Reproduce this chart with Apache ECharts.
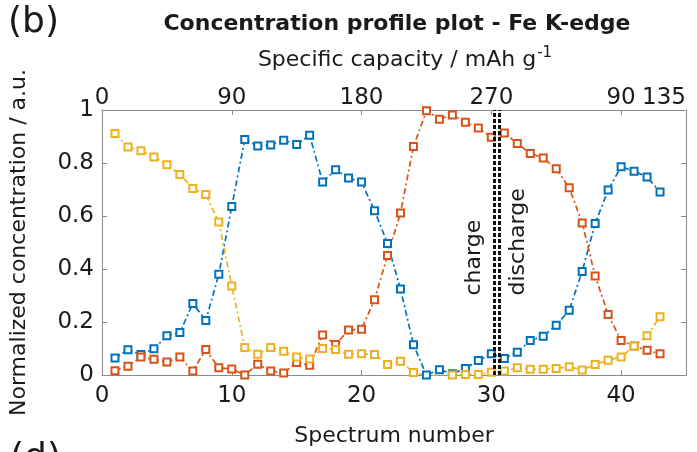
<!DOCTYPE html>
<html>
<head>
<meta charset="utf-8">
<script src="https://cdn.jsdelivr.net/npm/echarts@6/dist/echarts.min.js"></script>
<style>
html,body{margin:0;padding:0;background:#fff;}
#chart{width:697px;height:452px;}
</style>
</head>
<body>
<div id="chart"></div>
<script>
// Spectrum numbers 1..43
const spectra = [1,2,3,4,5,6,7,8,9,10,11,12,13,14,15,16,17,18,19,20,21,22,23,24,25,26,27,28,29,30,31,32,33,34,35,36,37,38,39,40,41,42,43];
const blueValues = [0.064,0.095,0.077,0.099,0.148,0.16,0.27,0.206,0.38,0.636,0.889,0.864,0.868,0.886,0.87,0.905,0.728,0.775,0.743,0.728,0.62,0.496,0.325,0.114,0.0,0.02,0.005,0.025,0.055,0.08,0.062,0.086,0.13,0.146,0.188,0.244,0.391,0.572,0.698,0.786,0.769,0.747,0.691];
const orangeValues = [0.016,0.033,0.068,0.059,0.049,0.068,0.015,0.096,0.027,0.023,0.0,0.041,0.015,0.008,0.047,0.037,0.151,0.115,0.17,0.173,0.284,0.451,0.611,0.862,0.997,0.965,0.981,0.954,0.932,0.897,0.913,0.874,0.836,0.819,0.778,0.707,0.574,0.374,0.228,0.13,0.109,0.093,0.08];
const yellowValues = [0.911,0.86,0.846,0.823,0.793,0.757,0.704,0.681,0.577,0.336,0.104,0.078,0.104,0.09,0.068,0.06,0.1,0.096,0.078,0.08,0.077,0.04,0.052,0.009,-0.002,-0.002,0.0,0.002,0.002,0.01,0.015,0.027,0.022,0.022,0.025,0.031,0.019,0.04,0.056,0.068,0.109,0.148,0.22];
// Top axis: spectrum positions and their specific capacity labels
const topTickPositions = [0,10,20,30,40,45];
const topTickLabels = ['0','90','180','270','90','135'];
// Charge / discharge separator and annotation anchors (data coords)
const separatorX = 30.4;
const textStartY = 0.3;
const textOffsetX = 1.7;

const FONT = 'DejaVu Sans';
const axisGray = '#8a8a8a';
const textColor = '#1a1a1a';

function pairs(vals){ return spectra.map((s,i)=>[s, vals[i]]); }

const lineStyleCommon = { width: 1.7, type: [6,3,2,3] };

function mkSeries(name, vals, color){
  return {
    name: name, type: 'line', data: pairs(vals),
    symbol: 'emptyRect', symbolSize: 7,
    itemStyle: { color: color, borderWidth: 1.4 },
    lineStyle: Object.assign({ color: color }, lineStyleCommon),
    z: 3, animation: false
  };
}

const chart = echarts.init(document.getElementById('chart'), null, {renderer:'canvas'});
const option = {
  animation: false,
  backgroundColor: '#ffffff',
  grid: { left: 100, right: 11, top: 110, bottom: 72 },
  xAxis: [
    {
      type: 'value', min: 0, max: 45, interval: 10, position: 'bottom',
      name: 'Spectrum number', nameLocation: 'middle', nameGap: 50,
      nameTextStyle: { fontFamily: FONT, fontSize: 22, color: textColor },
      axisLine: { show: true, onZero: false, lineStyle: { color: axisGray, width: 1 } },
      axisTick: { show: true, inside: true, length: 5, lineStyle: { color: axisGray } },
      axisLabel: { fontFamily: FONT, fontSize: 23, color: textColor, margin: 10, showMaxLabel: false },
      splitLine: { show: false }
    },
    {
      type: 'value', min: 0, max: 45, position: 'top',
      name: '{a|Specific capacity / mAh g}{s|-1}', nameLocation: 'middle', nameGap: 39,
      nameTextStyle: { fontFamily: FONT, fontSize: 22, color: textColor, padding: [0,0,0,22],
        rich: { a: { fontFamily: FONT, fontSize: 22, color: textColor, verticalAlign: 'bottom' },
                s: { fontFamily: FONT, fontSize: 15, color: textColor, verticalAlign: 'top', padding:[0,0,10,1] } } },
      axisLine: { show: true, onZero: false, lineStyle: { color: axisGray, width: 1 } },
      axisTick: { show: true, inside: true, length: 5, customValues: [10,20,30,40], lineStyle: { color: axisGray } },
      axisLabel: { fontFamily: FONT, fontSize: 23, color: textColor, margin: 0,
        customValues: topTickPositions, alignMaxLabel: 'right',
        formatter: function(v){ const i = topTickPositions.indexOf(v); return i >= 0 ? topTickLabels[i] : ''; } },
      splitLine: { show: false }
    }
  ],
  yAxis: [
    {
      type: 'value', min: 0, max: 1, interval: 0.2, position: 'left',
      name: 'Normalized concentration / a.u.', nameLocation: 'middle', nameGap: 72,
      nameTextStyle: { fontFamily: FONT, fontSize: 22, color: textColor },
      axisLine: { show: true, onZero: false, lineStyle: { color: axisGray, width: 1 } },
      axisTick: { show: true, inside: true, length: 5, lineStyle: { color: axisGray } },
      axisLabel: { fontFamily: FONT, fontSize: 23, color: textColor, margin: 8 },
      splitLine: { show: false }
    },
    {
      type: 'value', min: 0, max: 1, interval: 0.2, position: 'right',
      axisLine: { show: true, onZero: false, lineStyle: { color: axisGray, width: 1 } },
      axisTick: { show: true, inside: true, length: 5, lineStyle: { color: axisGray } },
      axisLabel: { show: false },
      splitLine: { show: false }
    }
  ],
  series: [
    mkSeries('blue', blueValues, '#0072BD'),
    mkSeries('orange', orangeValues, '#D95319'),
    mkSeries('yellow', yellowValues, '#EDB120'),
    {
      type: 'line', data: [], silent: true, z: 5,
      markLine: {
        silent: true, symbol: ['none','none'], animation: false,
        label: { show: false },
        data: [
          [{ coord: [separatorX - 0.2, 0], lineStyle: { color: '#111', width: 3, type: [4,2] } }, { coord: [separatorX - 0.2, 1] }],
          [{ coord: [separatorX + 0.2, 0], lineStyle: { color: '#111', width: 3, type: [4,2] } }, { coord: [separatorX + 0.2, 1] }]
        ]
      }
    }
  ]
};
chart.setOption(option);

// Rotated annotations anchored at data coordinates
const pCharge = chart.convertToPixel({ gridIndex: 0 }, [separatorX - textOffsetX, textStartY]);
const pDischarge = chart.convertToPixel({ gridIndex: 0 }, [separatorX + textOffsetX, textStartY]);
chart.setOption({
  graphic: [
    { id: 'lblB', type: 'text', left: 8, top: 5, style: { text: '(b)', fontFamily: FONT, fontSize: 36, fill: textColor } },
    { id: 'lblD', type: 'text', left: 10, top: 441, style: { text: '(d)', fontFamily: FONT, fontSize: 36, fill: textColor } },
    { id: 'title', type: 'text', x: 397, y: 24, style: { text: 'Concentration profile plot - Fe K-edge', fontFamily: FONT, fontWeight: 'bold', fontSize: 22, fill: textColor, align: 'center', verticalAlign: 'middle' } },
    { id: 'charge', type: 'text', x: pCharge[0], y: pCharge[1], rotation: Math.PI / 2, z: 10,
      style: { text: 'charge', fontFamily: FONT, fontSize: 22, fill: textColor, align: 'left', verticalAlign: 'middle' } },
    { id: 'discharge', type: 'text', x: pDischarge[0], y: pDischarge[1], rotation: Math.PI / 2, z: 10,
      style: { text: 'discharge', fontFamily: FONT, fontSize: 22, fill: textColor, align: 'left', verticalAlign: 'middle' } }
  ]
});
</script>
</body>
</html>
